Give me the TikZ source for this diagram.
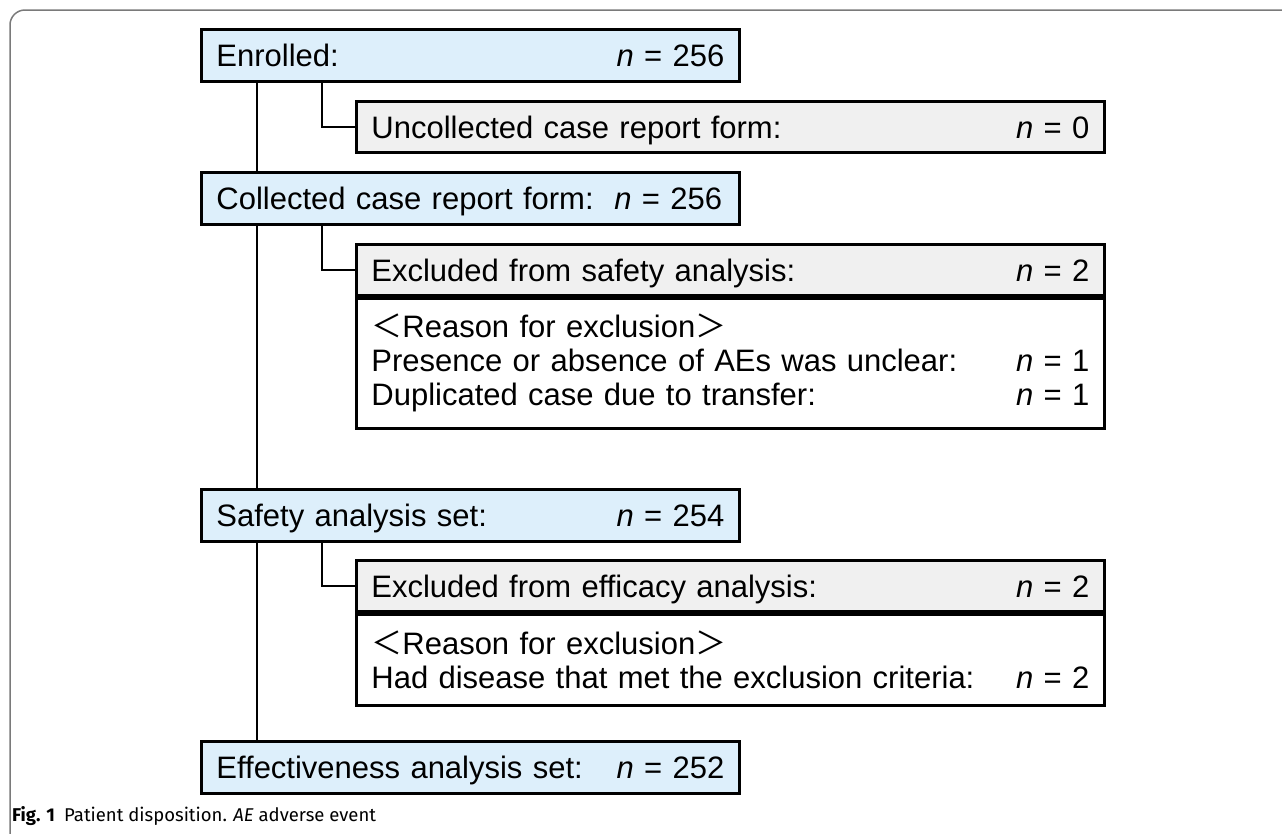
\documentclass[tikz,border=0pt]{standalone}
\usepackage{fontspec}
\setmainfont{Liberation Sans}
\newfontfamily\capfont{Fira Sans}
\newfontfamily\cjk{Noto Sans CJK JP}
\usetikzlibrary{calc}
\definecolor{boxblue}{HTML}{DDEFFB}
\definecolor{boxgray}{HTML}{F0F0F0}
\definecolor{framegray}{HTML}{7A7A7A}
\newcommand\nval[1]{\textit{n} = #1}
\tikzset{
  base/.style={draw=black, line width=2.8pt, anchor=north west, inner xsep=15pt, inner ysep=0pt,
    font=\fontsize{31}{34}\selectfont, align=left},
  oneline/.style={text height=22.5pt, text depth=0pt},
  mainbox/.style={base, oneline, fill=boxblue, text width=508pt, minimum height=52pt},
  sidebox/.style={base, oneline, fill=boxgray, text width=718pt, minimum height=51pt},
  bodybox/.style={base, fill=white, text width=718pt},
  conn/.style={line width=2.8pt, draw=black},
}
\begin{document}
\begin{tikzpicture}[x=1pt,y=-1pt]
\useasboundingbox (0,0) rectangle (1282,833);
\fill[white] (0,0) rectangle (1282,833);
\draw[framegray, line width=1.5pt, rounded corners=15pt] (10,850) -- (10,10) -- (1300,10);

\node[mainbox] (enr) at (200,28) {Enrolled:\hfill\nval{256}};
\node[sidebox] (unc) at (355,100) {Uncollected case report form:\hfill\nval{0}};
\node[mainbox] (col) at (200,171) {Collected case report form:\ \ \nval{256}\hfill};
\node[sidebox] (exs) at (355,243) {Excluded from safety analysis:\hfill\nval{2}};
\node[bodybox, minimum height=130pt] (exsb) at (exs.south west)
  {{\cjk ＜}Reason for exclusion{\cjk ＞}\\
   Presence or absence of AEs was unclear:\hfill\nval{1}\\
   Duplicated case due to transfer:\hfill\nval{1}};
\node[mainbox] (saf) at (200,488) {Safety analysis set:\hfill\nval{254}};
\node[sidebox] (exe) at (355,559) {Excluded from efficacy analysis:\hfill\nval{2}};
\node[bodybox, minimum height=91pt] (exeb) at (exe.south west)
  {{\cjk ＜}Reason for exclusion{\cjk ＞}\\
   Had disease that met the exclusion criteria:\hfill\nval{2}};
\node[mainbox] (eff) at (200,740) {Effectiveness analysis set:\hfill\nval{252}};

% main spine
\draw[conn] ($(enr.south west)+(57,0)$) -- ($(col.north west)+(57,0)$);
\draw[conn] ($(col.south west)+(57,0)$) -- ($(saf.north west)+(57,0)$);
\draw[conn] ($(saf.south west)+(57,0)$) -- ($(eff.north west)+(57,0)$);
% branches
\draw[conn] ($(enr.south west)+(122,0)$) |- (unc.west);
\draw[conn] ($(col.south west)+(122,0)$) |- (exs.west);
\draw[conn] ($(saf.south west)+(122,0)$) |- (exe.west);

\node[anchor=west, inner sep=0pt, font=\capfont\fontsize{18.5}{22}\selectfont] (cap) at (12,816)
  {\textbf{Fig. 1}\enspace Patient disposition. \textit{AE} adverse event};
\end{tikzpicture}
\end{document}
